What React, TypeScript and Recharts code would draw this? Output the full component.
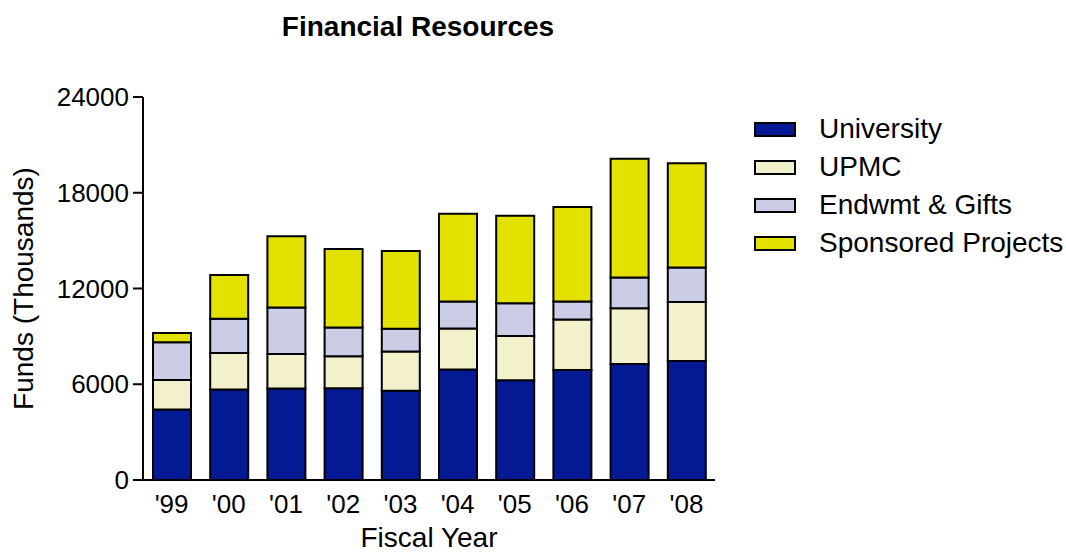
import { BarChart, Bar, XAxis, YAxis, Legend } from "recharts";

const years = ["'99", "'00", "'01", "'02", "'03", "'04", "'05", "'06", "'07", "'08"];
const university = [4420, 5670, 5730, 5750, 5600, 6920, 6250, 6900, 7270, 7460];
const upmc = [1850, 2290, 2170, 2000, 2460, 2580, 2770, 3160, 3500, 3690];
const endowment = [2355, 2140, 2910, 1810, 1420, 1690, 2060, 1130, 1920, 2160];
const sponsored = [585, 2750, 4460, 4920, 4870, 5500, 5480, 5910, 7435, 6540];
const yTicks = [0, 6000, 12000, 18000, 24000];

const series = [
  { key: "university", name: "University", color: "#031a94" },
  { key: "upmc", name: "UPMC", color: "#f3f1cb" },
  { key: "endowment", name: "Endwmt & Gifts", color: "#cbcce6" },
  { key: "sponsored", name: "Sponsored Projects", color: "#e2e100" },
];

const data = years.map((year, i) => ({
  year,
  university: university[i],
  upmc: upmc[i],
  endowment: endowment[i],
  sponsored: sponsored[i],
}));

const font = "'Liberation Sans', Arial, Helvetica, sans-serif";

const LegendBox = () => (
  <div style={{ fontFamily: font, fontSize: 28, color: "#000" }}>
    {series.map((s) => (
      <div
        key={s.key}
        style={{ display: "flex", alignItems: "center", height: 38, whiteSpace: "nowrap" }}
      >
        <div
          style={{
            width: 38,
            height: 11,
            background: s.color,
            border: "2px solid #000",
            marginRight: 23,
          }}
        />
        <span>{s.name}</span>
      </div>
    ))}
  </div>
);

export default function App() {
  return (
    <div style={{ position: "absolute", left: 0, top: 0, width: 1066, height: 554, background: "#fff" }}>
      <div
        style={{
          position: "absolute",
          left: 0,
          top: 12,
          width: 836,
          height: 30,
          lineHeight: "30px",
          textAlign: "center",
          fontFamily: font,
          fontWeight: "bold",
          fontSize: 28,
          color: "#000",
        }}
      >
        Financial Resources
      </div>
      <BarChart
        width={1066}
        height={554}
        data={data}
        margin={{ top: 97, right: 351, bottom: 0, left: 0 }}
      >
        <XAxis
          dataKey="year"
          height={74}
          axisLine={{ stroke: "#000", strokeWidth: 2 }}
          tickLine={false}
          tickSize={0}
          tickMargin={15}
          tick={{ fill: "#000", fontSize: 26, fontFamily: font }}
          label={{
            content: ({ viewBox }: any) => (
              <text
                x={viewBox.x + viewBox.width / 2}
                y={viewBox.y + 67}
                textAnchor="middle"
                fontSize={28}
                fontFamily={font}
                fill="#000"
              >
                Fiscal Year
              </text>
            ),
          }}
        />
        <YAxis
          width={143}
          domain={[0, 24000]}
          ticks={yTicks}
          interval={0}
          axisLine={{ stroke: "#000", strokeWidth: 2 }}
          tickLine={{ stroke: "#000", strokeWidth: 2 }}
          tickSize={10}
          tickMargin={4}
          tick={{ fill: "#000", fontSize: 26, fontFamily: font }}
          label={{
            content: ({ viewBox }: any) => {
              const cx = viewBox.x + 33;
              const cy = viewBox.y + viewBox.height / 2;
              return (
                <text
                  x={cx}
                  y={cy}
                  transform={`rotate(-90 ${cx} ${cy})`}
                  textAnchor="middle"
                  fontSize={28}
                  fontFamily={font}
                  fill="#000"
                >
                  Funds (Thousands)
                </text>
              );
            },
          }}
        />
        <Legend
          layout="horizontal"
          verticalAlign="middle"
          align="center"
          content={<LegendBox />}
          wrapperStyle={{ left: 754, top: 110, width: "auto", height: "auto" }}
        />
        {series.map((s) => (
          <Bar
            key={s.key}
            dataKey={s.key}
            name={s.name}
            stackId="funds"
            fill={s.color}
            stroke="#000"
            strokeWidth={2}
            barSize={38}
            isAnimationActive={false}
          />
        ))}
      </BarChart>
    </div>
  );
}
